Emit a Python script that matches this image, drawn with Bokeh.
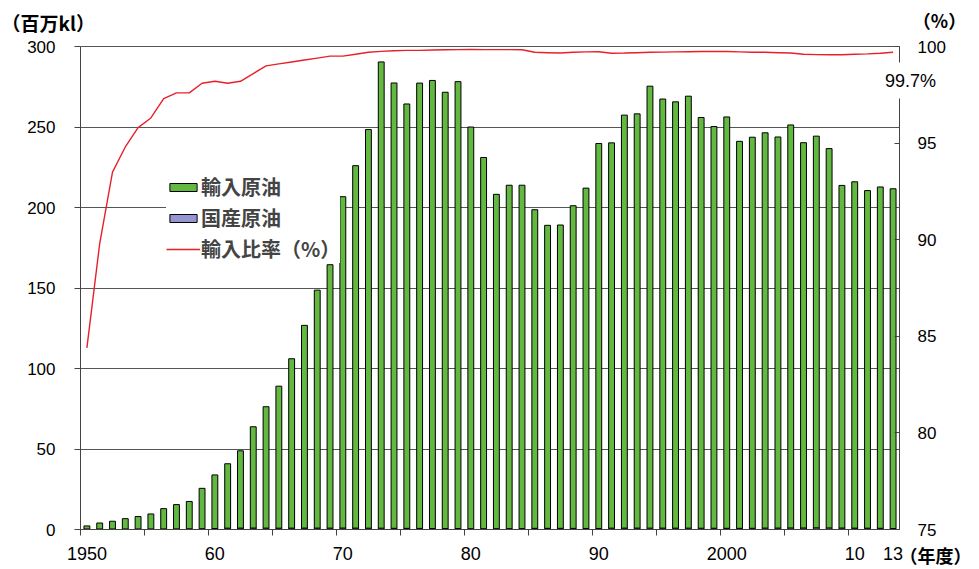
from bokeh.plotting import figure
from bokeh.models import (Range1d, LinearAxis, FixedTicker, Legend, LegendItem,
                          Label, ColumnDataSource)
from bokeh.embed import file_html
from bokeh.resources import INLINE

# ---------------- data ----------------
years = list(range(1950, 2014))

imports = [1.9, 3.7, 4.8, 6.4, 7.7, 9.3, 12.6, 15.1, 17.0, 25.1,
           33.3, 40.0, 48.0, 62.9, 75.4, 88.2, 105.2, 125.9, 147.8, 163.6,
           205.8, 225.1, 247.6, 289.6, 276.6, 263.6, 276.6, 278.3, 271.0, 277.6,
           249.5, 230.6, 207.7, 213.3, 213.3, 197.9, 188.2, 188.4, 200.4, 211.4,
           239.1, 239.3, 256.5, 257.3, 274.5, 266.5, 264.8, 268.3, 255.1, 249.5,
           255.5, 240.4, 242.9, 245.5, 242.9, 250.3, 239.3, 243.3, 235.6, 212.8,
           215.1, 209.7, 212.0, 211.0]

domestic = [0.33, 0.33, 0.33, 0.34, 0.34, 0.35, 0.36, 0.36, 0.42, 0.47,
            0.59, 0.83, 0.88, 0.91, 0.86, 0.82, 0.86, 0.89, 0.88, 0.87,
            0.90, 0.88, 0.82, 0.82, 0.74, 0.70, 0.67, 0.62, 0.57, 0.57,
            0.49, 0.46, 0.48, 0.52, 0.53, 0.72, 0.72, 0.72, 0.69, 0.64,
            0.64, 0.84, 0.87, 0.87, 0.85, 0.87, 0.83, 0.84, 0.79, 0.78,
            0.74, 0.71, 0.75, 0.89, 0.89, 0.97, 0.95, 1.02, 0.98, 0.92,
            0.86, 0.81, 0.75, 0.63]

ratio = [84.4, 89.8, 93.5, 94.8, 95.8, 96.3, 97.3, 97.6, 97.6, 98.1,
         98.2, 98.1, 98.2, 98.6, 99.0, 99.1, 99.2, 99.3, 99.4, 99.5,
         99.5, 99.6, 99.7, 99.75, 99.78, 99.8, 99.8, 99.82, 99.83, 99.84,
         99.85, 99.84, 99.84, 99.84, 99.83, 99.7, 99.68, 99.66, 99.7, 99.72,
         99.73, 99.65, 99.66, 99.68, 99.7, 99.71, 99.72, 99.73, 99.74, 99.74,
         99.74, 99.72, 99.7, 99.7, 99.68, 99.66, 99.6, 99.58, 99.57, 99.57,
         99.6, 99.62, 99.65, 99.7]

x_tick_years = [1950, 1960, 1970, 1980, 1990, 2000, 2010, 2013]
x_tick_labels = ["1950", "60", "70", "80", "90", "2000", "10", "13"]
x_minor_ticks = [1949.5, 1954.5, 1959.5, 1964.5, 1969.5, 1974.5, 1979.5,
                 1984.5, 1989.5, 1994.5, 1999.5, 2004.5, 2009.5]
y_ticks = [0, 50, 100, 150, 200, 250, 300]
pct_ticks = [75, 80, 85, 90, 95, 100]

series_names = ["輸入原油", "国産原油", "輸入比率（%）"]
last_label = "99.7%"

# ---------------- layout constants (pixels) ----------------
W, H = 979, 569                 # canvas
PL, PR, PT, PB = 80, 899, 46, 529   # plot box inside the canvas
X0, X1 = 1949.5, 2013.5         # x extent of the plot box (data)
Y0, Y1 = 0, 300                 # left axis extent
P0, P1 = 75, 100                # right axis extent

xs = (X1 - X0) / (PR - PL)
ys = (Y1 - Y0) / (PB - PT)
ps = (P1 - P0) / (PB - PT)

NUM_FONT = "Liberation Sans"
JP_FONT = "Noto Sans CJK JP"
AX_COLOR = "#444444"

src = ColumnDataSource(dict(year=years, domestic=domestic, imports=imports, ratio=ratio))

p = figure(width=W, height=H, output_backend="svg", toolbar_location=None,
           x_range=Range1d(X0 - PL * xs, X1 + (W - PR) * xs),
           y_range=Range1d(Y0 - (H - PB) * ys, Y1 + PT * ys),
           min_border=0, min_border_left=0, min_border_right=0,
           min_border_top=0, min_border_bottom=0)
p.extra_y_ranges = {"pct": Range1d(P0 - (H - PB) * ps, P1 + PT * ps)}
p.background_fill_color = "white"
p.border_fill_color = "white"
p.outline_line_color = None

# grid (horizontal lines only inside the plot box)
p.xgrid.visible = False
p.ygrid.ticker = FixedTicker(ticks=y_ticks)
p.ygrid.grid_line_color = "#555555"
p.ygrid.grid_line_width = 1
p.ygrid.bounds = (Y0, Y1)
try:
    p.ygrid.cross_bounds = (X0, X1)
except AttributeError:
    p.ygrid.visible = False
    p.segment(x0=X0, x1=X1, y0=y_ticks, y1=y_ticks, line_color="#555555",
              line_width=1, level="underlay")

bars = p.vbar_stack(["domestic", "imports"], x="year", width=0.46, source=src,
                    fill_color=["#9595cf", "#62b840"], line_color="black",
                    line_width=1)
line = p.line("year", "ratio", source=src, y_range_name="pct",
              line_color="#e8202a", line_width=1.4)

# x axis
xa = p.xaxis[0]
xa.fixed_location = Y0
xa.bounds = (X0, X1)
xa.ticker = FixedTicker(ticks=x_tick_years, minor_ticks=x_minor_ticks)
xa.major_label_overrides = dict(zip(x_tick_years, x_tick_labels))
xa.major_tick_out = 0
xa.major_tick_in = 0
xa.minor_tick_out = 6
xa.minor_tick_in = 0
xa.minor_tick_line_color = AX_COLOR
xa.axis_line_color = AX_COLOR
xa.major_label_standoff = 11
xa.major_label_text_font = NUM_FONT
xa.major_label_text_font_size = "18px"
xa.major_label_text_color = "black"

# left axis
ya = p.yaxis[0]
ya.fixed_location = X0
ya.bounds = (Y0, Y1)
ya.ticker = FixedTicker(ticks=y_ticks)
ya.major_tick_out = 6
ya.major_tick_in = 0
ya.minor_tick_out = 0
ya.minor_tick_in = 0
ya.major_tick_line_color = AX_COLOR
ya.axis_line_color = AX_COLOR
ya.major_label_standoff = 19
ya.major_label_text_font = NUM_FONT
ya.major_label_text_font_size = "17px"
ya.major_label_text_color = "black"

# right axis
ra = LinearAxis(y_range_name="pct", ticker=FixedTicker(ticks=pct_ticks))
ra.fixed_location = X1
ra.bounds = (P0, P1)
ra.major_tick_out = 0
ra.major_tick_in = 5
ra.minor_tick_out = 0
ra.minor_tick_in = 0
ra.major_tick_line_color = AX_COLOR
ra.axis_line_color = AX_COLOR
ra.major_label_standoff = 18
ra.major_label_text_font = NUM_FONT
ra.major_label_text_font_size = "17px"
ra.major_label_text_color = "black"
p.add_layout(ra, "right")

# legend
legend = Legend(items=[LegendItem(label=series_names[0], renderers=[bars[1]]),
                       LegendItem(label=series_names[1], renderers=[bars[0]]),
                       LegendItem(label=series_names[2], renderers=[line])],
                location=(166, 306))
legend.padding = 8
legend.spacing = 2
legend.margin = 0
legend.label_height = 22
legend.glyph_height = 10
legend.glyph_width = 34
legend.label_standoff = 1
legend.label_text_font = JP_FONT
legend.label_text_font_style = "bold"
legend.label_text_font_size = "20px"
legend.border_line_color = None
legend.background_fill_color = "white"
legend.background_fill_alpha = 1.0
p.add_layout(legend)

# texts around the plot box (screen px: x from the left, y from the bottom)
def add_label(text, x, y, align, size, font, style="normal", bg=None, pad=0):
    kw = dict(x=x, y=y, x_units="screen", y_units="screen", text=text,
              text_align=align, text_baseline="middle", text_font_size=size,
              text_font=font, text_font_style=style, text_color="black")
    if bg is not None:
        kw.update(background_fill_color=bg, padding=pad)
    p.add_layout(Label(**kw))

add_label("（百万kl）", 1, H - 22, "left", "19px", JP_FONT, "bold")
add_label("（%）", 939, H - 19, "center", "18px", JP_FONT, "bold")
add_label("（年度）", 935, H - 554, "center", "18px", JP_FONT, "bold")
add_label(last_label, 910, H - 80, "center", "18px", NUM_FONT, "normal", bg="white", pad=8)

open("out.html", "w").write(file_html(p, INLINE))
